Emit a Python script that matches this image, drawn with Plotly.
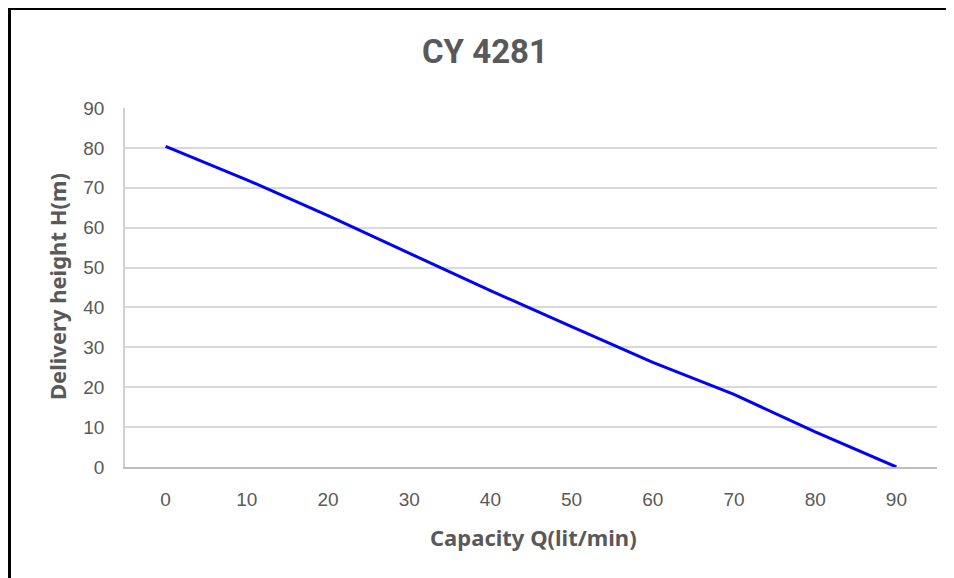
import plotly.graph_objects as go

capacity = [0, 10, 20, 30, 40, 50, 60, 70, 80, 90]
height = [80.4, 72.0, 63.0, 53.6, 44.2, 35.2, 26.2, 18.2, 8.8, 0.0]
y_ticks = [0, 10, 20, 30, 40, 50, 60, 70, 80, 90]

OFF = 8  # page body margin
W, H = 954 - OFF, 578 - OFF
# plot area in absolute page pixels
L, R, T, B = 125, 937, 108, 467


def px(x):
    return (x - L) / (R - L)


def py(y):
    return (B - y) / (B - T)


fig = go.Figure()
fig.add_trace(go.Scatter(
    x=capacity, y=height, mode="lines",
    line=dict(color="#0000FF", width=3),
    showlegend=False, hoverinfo="x+y",
))

grey = "#595959"
fig.update_layout(
    width=W, height=H,
    margin=dict(l=L - OFF, r=W - (R - OFF), t=T - OFF, b=H - (B - OFF), pad=0),
    paper_bgcolor="white", plot_bgcolor="white",
    font=dict(family="Liberation Sans, Arial, sans-serif", color=grey, size=19),
    xaxis=dict(range=[-5, 95], tickmode="array", tickvals=capacity,
               ticktext=[str(c) for c in capacity],
               showgrid=False, zeroline=False, showline=True,
               linecolor="#bfbfbf", linewidth=1.5, ticks="",
               ticklabelstandoff=14, tickfont=dict(size=19, color=grey),
               fixedrange=True),
    yaxis=dict(range=[0, 90], tickmode="array", tickvals=y_ticks,
               ticktext=[str(v) for v in y_ticks],
               showgrid=True, gridcolor="#d9d9d9", gridwidth=1.5,
               zeroline=False, showline=True, linecolor="#d0d0d0", linewidth=1.5,
               ticks="", ticklabelstandoff=15,
               tickfont=dict(size=19, color=grey), fixedrange=True),
    annotations=[
        dict(text="<b>CY 4281</b>", xref="paper", yref="paper",
             x=px(485), y=py(52), xanchor="center", yanchor="middle",
             showarrow=False,
             font=dict(family="Roboto, Liberation Sans, sans-serif",
                       size=33, color=grey)),
        dict(text="<b>Delivery height H(m)</b>", xref="paper", yref="paper",
             x=px(57), y=py(287), xanchor="center", yanchor="middle",
             textangle=-90, showarrow=False,
             font=dict(family="Noto Sans, Liberation Sans, sans-serif", size=22, color=grey)),
        dict(text="<b>Capacity Q(lit/min)</b>", xref="paper", yref="paper",
             x=px(533), y=py(537), xanchor="center", yanchor="middle",
             showarrow=False,
             font=dict(family="Noto Sans, Liberation Sans, sans-serif", size=22, color=grey)),
    ],
    shapes=[
        dict(type="path", xref="paper", yref="paper",
             path=f"M {px(9.5)},{py(600)} L {px(9.5)},{py(8.5)} L {px(980)},{py(8.5)}",
             line=dict(color="black", width=3)),
    ],
)

fig.write_html("out.html")
